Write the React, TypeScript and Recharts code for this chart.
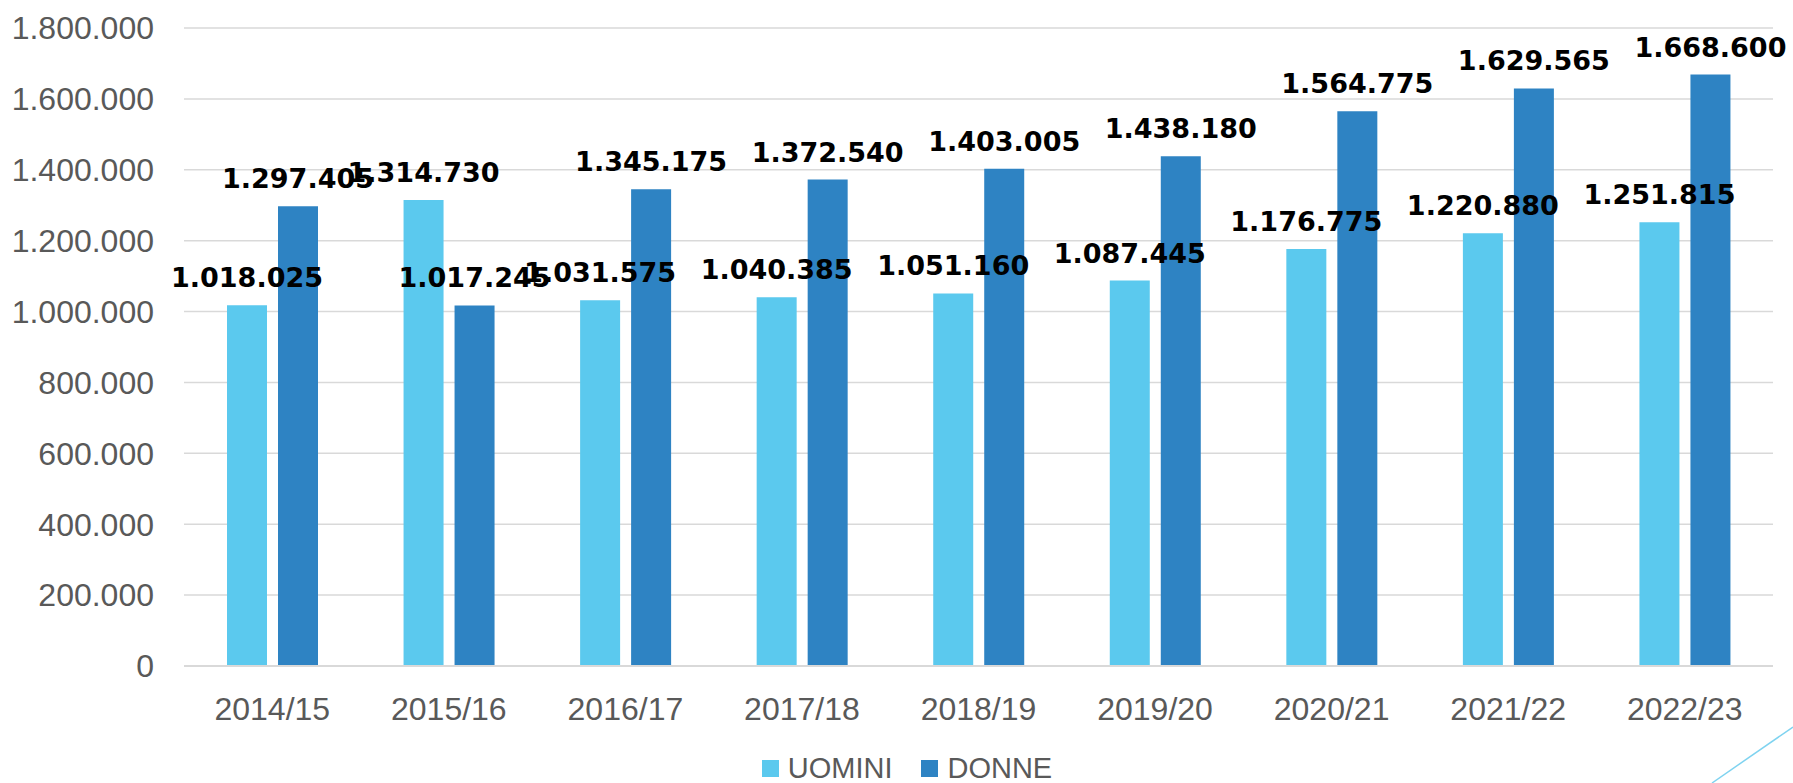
import { Bar, BarChart, CartesianGrid, LabelList, Legend, XAxis, YAxis } from "recharts";

const anni = ["2014/15", "2015/16", "2016/17", "2017/18", "2018/19", "2019/20", "2020/21", "2021/22", "2022/23"];
const uomini = [1018025, 1314730, 1031575, 1040385, 1051160, 1087445, 1176775, 1220880, 1251815];
const donne = [1297405, 1017245, 1345175, 1372540, 1403005, 1438180, 1564775, 1629565, 1668600];
const yTicks = [0, 200000, 400000, 600000, 800000, 1000000, 1200000, 1400000, 1600000, 1800000];

const series = [
  { key: "UOMINI", color: "#5BC9EE" },
  { key: "DONNE", color: "#2E83C3" },
];

// separatore delle migliaia col punto
const fmt = (v: number) => String(Math.round(v)).replace(/\B(?=(\d{3})+(?!\d))/g, ".");

const data = anni.map((anno, i) => ({ anno, UOMINI: uomini[i], DONNE: donne[i] }));

const axisFont = { fontFamily: "'Liberation Sans', Arial, sans-serif", fontSize: 32, fill: "#595959" };

function LegendBox() {
  return (
    <div style={{ display: "flex", justifyContent: "center", alignItems: "center", height: 34, paddingLeft: 50,
      fontFamily: "'Liberation Sans', Arial, sans-serif", fontSize: 29, color: "#595959" }}>
      {series.map((s) => (
        <span key={s.key} style={{ display: "inline-flex", alignItems: "center", marginRight: 29 }}>
          <span style={{ display: "inline-block", width: 17, height: 17, background: s.color, marginRight: 9 }} />
          {s.key}
        </span>
      ))}
    </div>
  );
}

export default function App() {
  return (
    <div style={{ position: "absolute", left: 0, top: 0, width: 1793, height: 783, background: "#fff" }}>
      <BarChart width={1793} height={783} data={data} margin={{ top: 28, right: 20, left: 0, bottom: 23 }}
        barGap={11} barSize={40}>
        <CartesianGrid stroke="#D9D9D9" strokeWidth={1.5} vertical={false} />
        <XAxis dataKey="anno" height={60} tickLine={false} tickSize={0} tickMargin={31}
          axisLine={{ stroke: "#D9D9D9", strokeWidth: 2 }} tick={axisFont} />
        <YAxis width={184} domain={[0, 1800000]} ticks={yTicks} tickFormatter={fmt} axisLine={false}
          tickLine={false} tickSize={0} tickMargin={30} tick={axisFont} />
        <Legend content={<LegendBox />} wrapperStyle={{ top: 751, left: 0, width: 1793 }} />
        {series.map((s) => (
          <Bar key={s.key} dataKey={s.key} fill={s.color} isAnimationActive={false}>
            <LabelList dataKey={s.key} position="top" offset={18} formatter={(v: any) => fmt(Number(v))}
              style={{ fontFamily: "'DejaVu Sans', sans-serif", fontWeight: "bold", fontSize: 27, fill: "#000" }} />
          </Bar>
        ))}
      </BarChart>
      <svg width={1793} height={783} style={{ position: "absolute", left: 0, top: 0, pointerEvents: "none" }}>
        <line x1={1712} y1={783} x2={1793} y2={727} stroke="#7FD3F0" strokeWidth={1.5} />
      </svg>
    </div>
  );
}
